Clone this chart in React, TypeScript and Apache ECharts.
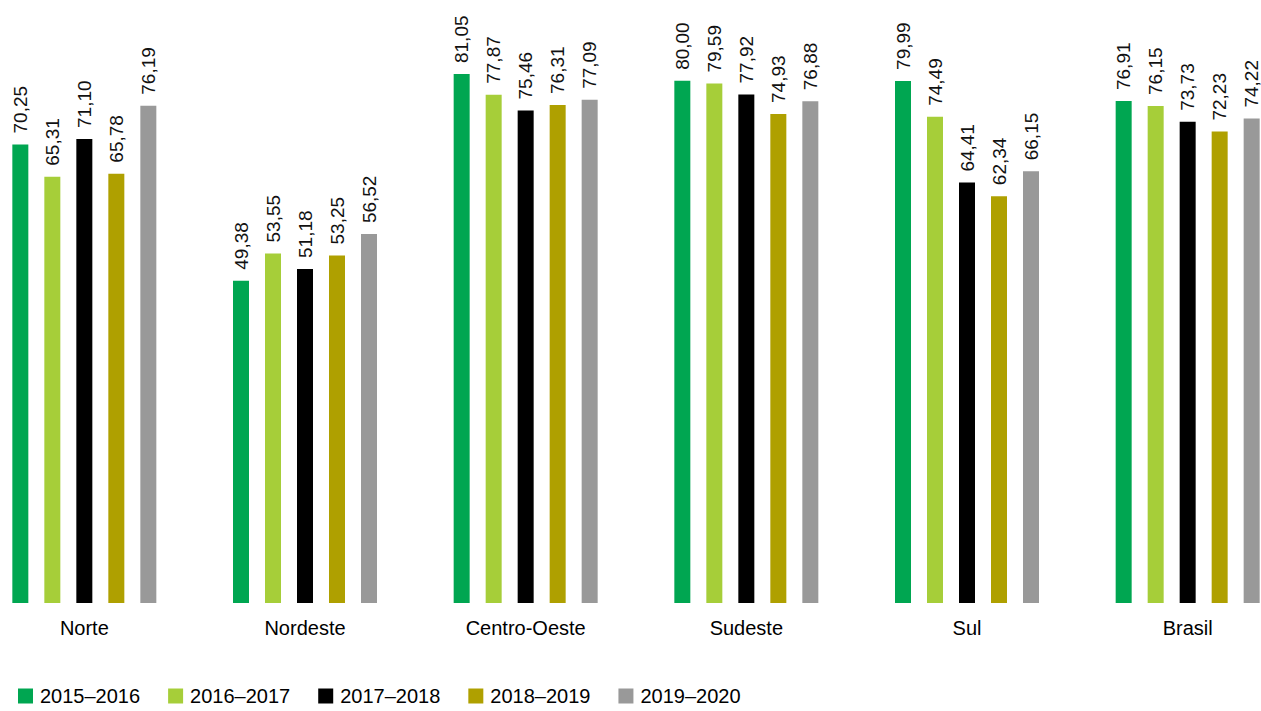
import React, { useEffect, useRef } from "react";
import * as echarts from "echarts";

const categories = ["Norte", "Nordeste", "Centro-Oeste", "Sudeste", "Sul", "Brasil"];
const seriesNames = ["2015–2016", "2016–2017", "2017–2018", "2018–2019", "2019–2020"];
const s2015 = [70.25, 49.38, 81.05, 80.0, 79.99, 76.91];
const s2016 = [65.31, 53.55, 77.87, 79.59, 74.49, 76.15];
const s2017 = [71.1, 51.18, 75.46, 77.92, 64.41, 73.73];
const s2018 = [65.78, 53.25, 76.31, 74.93, 62.34, 72.23];
const s2019 = [76.19, 56.52, 77.09, 76.88, 66.15, 74.22];
const colors = ["#00A651", "#A6CE39", "#000000", "#AFA000", "#999999"];

const OFFSET = 26;

export default function App() {
  const ref = useRef<HTMLDivElement>(null);
  useEffect(() => {
    if (!ref.current) return;
    const chart = echarts.init(ref.current, null, { renderer: "svg" });
    const data = [s2015, s2016, s2017, s2018, s2019];
    chart.setOption({
      animation: false,
      textStyle: { fontFamily: "Liberation Sans, Arial, sans-serif" },
      grid: { left: 0, right: 0, top: 15.6, bottom: 108, containLabel: false },
      legend: {
        left: 18 + OFFSET,
        top: 686,
        itemWidth: 15,
        itemHeight: 15,
        itemGap: 28,
        icon: "rect",
        padding: 0,
        textStyle: { fontSize: 20, color: "#000", fontFamily: "Liberation Sans, Arial, sans-serif", padding: [0, 0, 0, 2] },
        data: seriesNames,
      },
      xAxis: {
        type: "category",
        data: categories,
        axisLine: { show: false },
        axisTick: { show: false },
        axisLabel: { fontSize: 20, color: "#000", margin: 15 },
      },
      yAxis: {
        type: "value",
        min: 0,
        max: 90,
        show: false,
        splitLine: { show: false },
      },
      series: seriesNames.map((name, i) => ({
        name,
        type: "bar",
        data: data[i],
        barWidth: 16,
        barGap: "100%",
        itemStyle: { color: colors[i] },
        label: {
          show: true,
          position: "top",
          rotate: 90,
          align: "left",
          verticalAlign: "middle",
          distance: 11,
          fontSize: 19,
          color: "#111",
          formatter: (p: any) => p.value.toFixed(2).replace(".", ","),
        },
      })),
    });
    return () => chart.dispose();
  }, []);
  return (
    <div style={{ position: "fixed", left: 0, top: 0, width: 1261, height: 711, overflow: "hidden", background: "#fff" }}>
      <div
        ref={ref}
        style={{ position: "absolute", left: -OFFSET, top: 0, width: 1324, height: 711 }}
      />
    </div>
  );
}
